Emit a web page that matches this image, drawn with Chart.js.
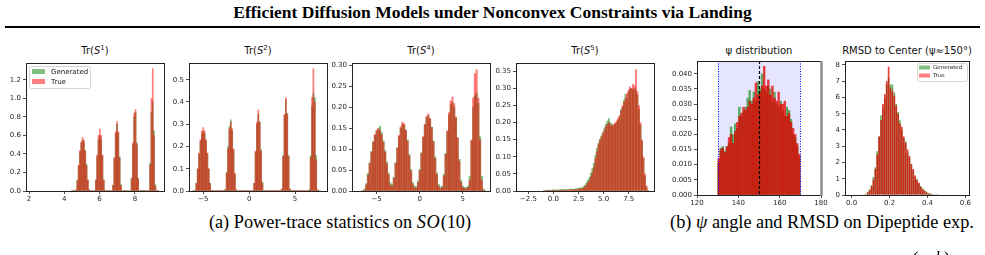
<!DOCTYPE html>
<html>
<head>
<meta charset="utf-8">
<script src="https://cdn.jsdelivr.net/npm/chart.js@4.4.1/dist/chart.umd.min.js"></script>
<style>
  body { margin: 0; width: 985px; height: 255px; overflow: hidden; background: #fff; position: relative; font-family: "DejaVu Sans", sans-serif; }
  canvas { position: absolute; }
  .ptitle { position: absolute; top: 45px; font-size: 10px; line-height: 12px; color: #111; white-space: nowrap; transform: translateX(-50%); }
  .ptitle sup { font-size: 7px; vertical-align: 4px; line-height: 0; }
  .serif { position: absolute; font-family: "Liberation Serif", "Times New Roman", serif; color: #000; white-space: nowrap; }
  #title { top: 2px; left: 0; width: 985px; text-align: center; font-weight: bold; font-size: 17.5px; }
  #rule { position: absolute; left: 5px; width: 975px; top: 26px; height: 2px; background: #000; }
  .cap { top: 212px; font-size: 18.3px; transform: translateX(-50%); }
  .cap .m { letter-spacing: 0.8px; }
</style>
</head>
<body>
<div id="title" class="serif">Efficient Diffusion Models under Nonconvex Constraints via Landing</div>
<div id="rule"></div>

<div class="ptitle" style="left:95px">Tr(<i>S</i><sup>1</sup>)</div>
<div class="ptitle" style="left:258px">Tr(<i>S</i><sup>2</sup>)</div>
<div class="ptitle" style="left:421px">Tr(<i>S</i><sup>4</sup>)</div>
<div class="ptitle" style="left:585px">Tr(<i>S</i><sup>5</sup>)</div>
<div class="ptitle" style="left:759px">ψ distribution</div>
<div class="ptitle" style="left:907px">RMSD to Center (ψ≈150°)</div>

<canvas id="c1"></canvas>
<canvas id="c2"></canvas>
<canvas id="c3"></canvas>
<canvas id="c4"></canvas>
<canvas id="c5"></canvas>
<canvas id="c6"></canvas>

<div class="serif cap" style="left:340px">(a) Power-trace statistics on <i class="m">SO</i>(10)</div>
<div class="serif cap" style="left:822px">(b) <i>ψ</i> angle and RMSD on Dipeptide exp.</div>
<div class="serif" style="left:897px;top:248px;font-size:17px"><i>=</i> (<i>a</i>, <i>b</i>)</div>

<script>
const LABELS = ['Generated', 'True'];

// Tr(S^1): bins of width 0.075 from 4.4
const s1Start = 4.4, s1Width = 0.075;
const s1Gen = [0.003, 0.004, 0.006,
  0.014, 0.12, 0.27, 0.42, 0.52, 0.55, 0.53, 0.44, 0.29, 0.12, 0.015,
  0.005, 0.004, 0.006,
  0.006, 0.12, 0.37, 0.55, 0.6, 0.56, 0.38, 0.12, 0.006,
  0.004, 0.003, 0.002, 0.003, 0.005,
  0.065, 0.35, 0.62, 0.72, 0.63, 0.37, 0.07,
  0.005, 0.002, 0.001, 0.002, 0.003, 0.005,
  0.006, 0.14, 0.5, 0.8, 0.85, 0.52, 0.14, 0.006,
  0.003, 0.001, 0.001, 0.002, 0.003, 0.005,
  0.006, 0.3, 0.85, 0.97, 0.65, 0.07,
  0.003, 0.001];
const s1True = [0.002, 0.003, 0.005,
  0.012, 0.11, 0.28, 0.44, 0.53, 0.58, 0.55, 0.43, 0.27, 0.12, 0.013,
  0.004, 0.003, 0.005,
  0.005, 0.12, 0.39, 0.6, 0.67, 0.6, 0.39, 0.12, 0.005,
  0.003, 0.002, 0.002, 0.003, 0.004,
  0.06, 0.36, 0.64, 0.75, 0.64, 0.36, 0.06,
  0.004, 0.002, 0.001, 0.002, 0.003, 0.004,
  0.005, 0.13, 0.52, 0.84, 0.88, 0.5, 0.13, 0.005,
  0.003, 0.001, 0.001, 0.002, 0.003, 0.004,
  0.005, 0.28, 1.0, 1.32, 0.6, 0.05,
  0.003, 0.001];

// Tr(S^2): bins of width 0.15 from -6.125
const s2Start = -6.125, s2Width = 0.15;
const s2Gen = [0.001,
  0.004, 0.036, 0.1, 0.165, 0.225, 0.255, 0.27, 0.26, 0.228, 0.168, 0.1, 0.035, 0.004,
  0.002, 0.001, 0.001, 0.001, 0.001, 0.001, 0.002, 0.002,
  0.002, 0.007, 0.085, 0.2, 0.29, 0.32, 0.27, 0.185, 0.075, 0.006, 0.002,
  0.002, 0.001, 0.001, 0.001, 0.001, 0.001, 0.001, 0.002, 0.002, 0.002,
  0.002, 0.035, 0.175, 0.3, 0.345, 0.31, 0.185, 0.04, 0.002,
  0.002, 0.001, 0.001, 0.001, 0.001, 0.001, 0.001, 0.001, 0.002, 0.002, 0.002, 0.002,
  0.009, 0.16, 0.34, 0.41, 0.35, 0.16, 0.009,
  0.002, 0.001, 0.001, 0.001, 0.001, 0.001, 0.001, 0.001, 0.001, 0.001, 0.001, 0.002, 0.002, 0.006,
  0.16, 0.38, 0.44, 0.42, 0.16,
  0.006, 0.001, 0.0];
const s2True = [0.001,
  0.003, 0.034, 0.1, 0.171, 0.231, 0.27, 0.285, 0.27, 0.231, 0.171, 0.1, 0.034, 0.003,
  0.001, 0.001, 0.001, 0.001, 0.001, 0.001, 0.001, 0.001,
  0.002, 0.006, 0.08, 0.19, 0.28, 0.31, 0.28, 0.19, 0.08, 0.006, 0.002,
  0.001, 0.001, 0.001, 0.001, 0.001, 0.001, 0.001, 0.001, 0.001, 0.001,
  0.002, 0.035, 0.18, 0.31, 0.365, 0.31, 0.18, 0.035, 0.002,
  0.001, 0.001, 0.001, 0.001, 0.001, 0.001, 0.001, 0.001, 0.001, 0.001, 0.001, 0.001,
  0.008, 0.155, 0.345, 0.42, 0.345, 0.155, 0.008,
  0.001, 0.001, 0.001, 0.001, 0.001, 0.001, 0.001, 0.001, 0.001, 0.001, 0.001, 0.001, 0.001, 0.005,
  0.15, 0.42, 0.55, 0.4, 0.14,
  0.005, 0.001, 0.0];

// Tr(S^4): bins of width 0.2 from -6.7
const s4Start = -6.7, s4Width = 0.2;
const s4Gen = [0.001, 0.005, 0.018, 0.042, 0.068, 0.095, 0.118, 0.133, 0.142, 0.148,
  0.155, 0.14, 0.12, 0.097, 0.07, 0.043, 0.02, 0.016, 0.033, 0.068,
  0.104, 0.13, 0.15, 0.16, 0.158, 0.146, 0.122, 0.088, 0.052, 0.021,
  0.012, 0.011, 0.024, 0.052, 0.092, 0.128, 0.158, 0.176, 0.18, 0.172,
  0.153, 0.12, 0.082, 0.043, 0.016, 0.01, 0.012, 0.04, 0.09, 0.142,
  0.183, 0.207, 0.212, 0.2, 0.175, 0.128, 0.076, 0.026, 0.012, 0.009,
  0.009, 0.012, 0.035, 0.12, 0.2, 0.228, 0.235, 0.21, 0.13, 0.035,
  0.005, 0.001];
const s4True = [0.001, 0.003, 0.015, 0.039, 0.066, 0.093, 0.117, 0.135, 0.146, 0.15,
  0.145, 0.135, 0.117, 0.093, 0.066, 0.039, 0.015, 0.011, 0.03, 0.066,
  0.102, 0.133, 0.154, 0.165, 0.161, 0.145, 0.119, 0.084, 0.048, 0.016,
  0.008, 0.007, 0.02, 0.049, 0.09, 0.13, 0.16, 0.179, 0.185, 0.174,
  0.152, 0.118, 0.078, 0.039, 0.012, 0.006, 0.008, 0.036, 0.088, 0.144,
  0.188, 0.216, 0.225, 0.209, 0.177, 0.127, 0.072, 0.021, 0.008, 0.006,
  0.006, 0.008, 0.026, 0.122, 0.223, 0.281, 0.29, 0.223, 0.122, 0.026,
  0.003, 0.001];

// Tr(S^5): bins of width 0.15 from -1.0
const s5Start = -1.0, s5Width = 0.15;
const s5Gen = [0.002, 0.002, 0.003, 0.003, 0.002, 0.003, 0.004, 0.003, 0.004, 0.003,
  0.004, 0.005, 0.004, 0.004, 0.005, 0.004, 0.005, 0.005, 0.006, 0.005,
  0.006, 0.007, 0.007, 0.009, 0.01, 0.009, 0.013, 0.017, 0.024, 0.032,
  0.04, 0.052, 0.066, 0.082, 0.105, 0.125, 0.14, 0.152, 0.162, 0.172,
  0.185, 0.195, 0.205, 0.212, 0.2, 0.196, 0.19, 0.195, 0.2, 0.208,
  0.218, 0.238, 0.245, 0.265, 0.283, 0.27, 0.29, 0.298, 0.3, 0.295,
  0.3, 0.295, 0.28, 0.24, 0.195, 0.145, 0.095, 0.045, 0.012, 0.002];
const s5True = [0.001, 0.001, 0.001, 0.002, 0.001, 0.002, 0.002, 0.001, 0.002, 0.002,
  0.002, 0.003, 0.002, 0.003, 0.003, 0.002, 0.003, 0.003, 0.004, 0.003,
  0.004, 0.005, 0.004, 0.006, 0.007, 0.006, 0.009, 0.012, 0.018, 0.025,
  0.03, 0.042, 0.055, 0.07, 0.095, 0.115, 0.135, 0.148, 0.158, 0.168,
  0.178, 0.188, 0.196, 0.2, 0.193, 0.19, 0.195, 0.198, 0.205, 0.212,
  0.22, 0.235, 0.25, 0.26, 0.272, 0.285, 0.295, 0.305, 0.3, 0.312,
  0.308, 0.355, 0.29, 0.25, 0.2, 0.15, 0.1, 0.05, 0.015, 0.002];

// psi distribution: bins of width 1 from 130 (degrees)
const psiStart = 130, psiWidth = 1;
const psiGen = [0.0105, 0.0155, 0.016, 0.0145, 0.016, 0.017, 0.0225, 0.02, 0.0235, 0.022,
  0.029, 0.026, 0.0275, 0.029, 0.032, 0.0345, 0.031, 0.034, 0.031, 0.0375,
  0.035, 0.04, 0.035, 0.034, 0.036, 0.035, 0.031, 0.034, 0.03, 0.029,
  0.031, 0.028, 0.026, 0.029, 0.028, 0.025, 0.02, 0.019, 0.016, 0.0125];
const psiTrue = [0.012, 0.015, 0.0155, 0.014, 0.016, 0.019, 0.02, 0.017, 0.021, 0.024,
  0.026, 0.027, 0.029, 0.028, 0.029, 0.031, 0.03, 0.032, 0.037, 0.033,
  0.034, 0.036, 0.0425, 0.036, 0.038, 0.033, 0.036, 0.032, 0.031, 0.034,
  0.03, 0.03, 0.031, 0.026, 0.027, 0.024, 0.022, 0.02, 0.017, 0.0135];
const psiBand = [130, 170];
const psiCenter = 150;

// RMSD to center: bins of width 0.01 from 0.06
const rmsdStart = 0.06, rmsdWidth = 0.01;
const rmsdGen = [0.02, 0.07, 0.2, 0.35, 0.6, 1.1, 1.7, 2.7, 3.6, 4.9,
  5.4, 6.0, 6.8, 7.2, 6.8, 6.8, 6.3, 5.6, 5.1, 4.6,
  4.0, 3.5, 3.3, 2.6, 2.3, 1.9, 1.5, 1.1, 1.0, 0.7,
  0.55, 0.4, 0.3, 0.2, 0.12, 0.09, 0.06, 0.04, 0.05, 0.02, 0.0];
const rmsdTrue = [0.0, 0.05, 0.15, 0.3, 0.55, 0.95, 1.6, 2.5, 3.6, 4.6,
  5.6, 6.2, 7.0, 7.9, 6.6, 6.4, 6.1, 5.5, 5.0, 4.4,
  4.2, 3.6, 3.2, 2.8, 2.4, 1.9, 1.6, 1.2, 0.9, 0.75,
  0.5, 0.35, 0.25, 0.15, 0.1, 0.07, 0.04, 0.03, 0.01, 0.0, 0.0];

// tick values
const s1XTicks = [2, 4, 6, 8], s1YTicks = [0, 0.2, 0.4, 0.6, 0.8, 1.0, 1.2];
const s2XTicks = [-5, 0, 5], s2YTicks = [0, 0.1, 0.2, 0.3, 0.4, 0.5];
const s4XTicks = [-5, 0, 5], s4YTicks = [0, 0.05, 0.1, 0.15, 0.2, 0.25, 0.3];
const s5XTicks = [-2.5, 0, 2.5, 5, 7.5], s5YTicks = [0, 0.05, 0.1, 0.15, 0.2, 0.25, 0.3, 0.35];
const psiXTicks = [120, 140, 160, 180], psiYTicks = [0, 0.005, 0.01, 0.015, 0.02, 0.025, 0.03, 0.035, 0.04];
const rmsdXTicks = [0, 0.2, 0.4, 0.6], rmsdYTicks = [0, 1, 2, 3, 4, 5, 6, 7, 8];

const LIGHT = ['rgba(0,128,0,0.5)', 'rgba(255,0,0,0.5)'];
const DARK = ['rgba(0,128,0,0.6)', 'rgba(230,0,0,0.75)'];

const fmt = d => v => {
  const s = Math.abs(v).toFixed(d);
  return (v < 0 ? '\u2212' : '') + s;
};

// box around the plot + psi decorations
Chart.register({
  id: 'frame',
  beforeDatasetsDraw(chart, args, o) {
    if (!o.band) return;
    const { ctx, chartArea: a, scales: { x } } = chart;
    ctx.save();
    ctx.fillStyle = 'rgba(0,0,255,0.1)';
    const x0 = x.getPixelForValue(o.band[0]), x1 = x.getPixelForValue(o.band[1]);
    ctx.fillRect(x0, a.top, x1 - x0, a.bottom - a.top);
    ctx.restore();
  },
  afterDatasetsDraw(chart, args, o) {
    const { ctx, chartArea: a, scales: { x } } = chart;
    ctx.save();
    if (o.band) {
      ctx.lineWidth = 1;
      ctx.strokeStyle = '#0000ff';
      ctx.setLineDash([1, 1.5]);
      o.band.forEach(v => {
        const px = Math.round(x.getPixelForValue(v)) + 0.5;
        ctx.beginPath(); ctx.moveTo(px, a.top); ctx.lineTo(px, a.bottom); ctx.stroke();
      });
      ctx.strokeStyle = '#000';
      ctx.lineWidth = 1.2;
      ctx.setLineDash([3, 2]);
      const pc = Math.round(x.getPixelForValue(o.center)) + 0.5;
      ctx.beginPath(); ctx.moveTo(pc, a.top); ctx.lineTo(pc, a.bottom); ctx.stroke();
      ctx.setLineDash([]);
    }
    ctx.strokeStyle = '#222';
    ctx.lineWidth = 1;
    ctx.strokeRect(Math.round(a.left) + 0.5, Math.round(a.top) + 0.5,
      Math.round(a.right - a.left), Math.round(a.bottom - a.top));
    if (o.greyRight) {
      ctx.strokeStyle = '#888';
      ctx.lineWidth = 2.4;
      ctx.beginPath(); ctx.moveTo(a.right + 0.5, a.top); ctx.lineTo(a.right + 0.5, a.bottom + 1); ctx.stroke();
    }
    ctx.restore();
  }
});

// legend drawn inside the plot
Chart.register({
  id: 'inLegend',
  afterDraw(chart, args, o) {
    if (!o.show) return;
    const { ctx, chartArea: a } = chart;
    const bx = o.corner === 'tr' ? a.right - o.x - o.w : a.left + o.x;
    const by = a.top + o.y;
    ctx.save();
    ctx.fillStyle = 'rgba(255,255,255,0.8)';
    ctx.strokeStyle = '#d5d5d5';
    ctx.lineWidth = 1;
    ctx.beginPath();
    ctx.roundRect(Math.round(bx) + 0.5, Math.round(by) + 0.5, o.w, o.h, 2);
    ctx.fill(); ctx.stroke();
    ctx.font = o.font + 'px "DejaVu Sans"';
    ctx.textBaseline = 'middle';
    chart.data.datasets.forEach((ds, i) => {
      const cy = by + o.row0 + i * o.rowGap;
      ctx.fillStyle = o.colors[i];
      ctx.fillRect(bx + o.px, cy - o.ph / 2, o.pw, o.ph);
      ctx.fillStyle = '#222';
      ctx.fillText(ds.label, bx + o.tx, cy + 0.5);
    });
    ctx.restore();
  }
});

function histChart(id, box, c) {
  const padT = 8, padR = 12, yW = 34, xH = 16;
  const canvas = document.getElementById(id);
  canvas.width = box[2] - box[0] + yW + padR;
  canvas.height = box[3] - box[1] + padT + xH;
  canvas.style.left = (box[0] - yW) + 'px';
  canvas.style.top = (box[1] - padT) + 'px';

  const tickFont = { family: '"DejaVu Sans"', size: 7 };
  const axisCommon = {
    type: 'linear',
    offset: false,
    border: { display: false },
    grid: { drawOnChartArea: false, drawTicks: true, tickLength: 3, color: '#222', lineWidth: 0.8, offset: false },
  };

  return new Chart(canvas, {
    type: 'bar',
    data: {
      // "True" gets the lower order so it is painted over "Generated"
      datasets: LABELS.map((label, k) => ({
        label,
        order: LABELS.length - k,
        data: c.series[k].map((v, i) => ({ x: c.start + c.width * (i + 0.5), y: v })),
        backgroundColor: c.colors[k],
        borderWidth: 0,
        grouped: false,
        barPercentage: c.barPct || 1,
        categoryPercentage: 1,
        inflateAmount: c.barPct ? 0 : 0.2
      }))
    },
    options: {
      responsive: false,
      animation: false,
      events: [],
      layout: { padding: { top: padT, right: padR, left: 0, bottom: 0 } },
      plugins: {
        legend: { display: false },
        tooltip: { enabled: false },
        frame: c.frame || {},
        inLegend: c.legend || { show: false }
      },
      scales: {
        x: {
          ...axisCommon,
          min: c.xRange[0], max: c.xRange[1],
          afterBuildTicks: s => { s.ticks = c.xTicks.map(value => ({ value })); },
          afterFit: s => { s.height = xH; },
          ticks: { font: tickFont, color: '#262626', padding: 1, maxRotation: 0, autoSkip: false, callback: c.xFmt }
        },
        y: {
          ...axisCommon,
          min: 0, max: c.yMax,
          afterBuildTicks: s => { s.ticks = c.yTicks.map(value => ({ value })); },
          afterFit: s => { s.width = yW; },
          ticks: { font: tickFont, color: '#262626', padding: 2, autoSkip: false, callback: c.yFmt }
        }
      }
    }
  });
}

const legendBig = { show: true, corner: 'tl', x: 3, y: 3, w: 61, h: 22, font: 7, row0: 5.5, rowGap: 10, px: 3, pw: 13, ph: 5, tx: 22, colors: LIGHT };
const legendSmall = { show: true, corner: 'tr', x: 2, y: 2, w: 50, h: 18, font: 5.5, row0: 4.5, rowGap: 8, px: 2, pw: 11, ph: 4, tx: 16, colors: LIGHT };

histChart('c1', [26, 63, 164, 191], {
  series: [s1Gen, s1True], start: s1Start, width: s1Width, colors: LIGHT,
  xRange: [1.83, 9.65], yMax: 1.38, xTicks: s1XTicks, yTicks: s1YTicks,
  xFmt: fmt(0), yFmt: fmt(1), legend: legendBig
});
histChart('c2', [189, 63, 327, 191], {
  series: [s2Gen, s2True], start: s2Start, width: s2Width, colors: LIGHT,
  xRange: [-6.55, 8.48], yMax: 0.575, xTicks: s2XTicks, yTicks: s2YTicks,
  xFmt: fmt(0), yFmt: fmt(1)
});
histChart('c3', [352, 63, 490, 191], {
  series: [s4Gen, s4True], start: s4Start, width: s4Width, colors: LIGHT,
  xRange: [-7.85, 8.15], yMax: 0.306, xTicks: s4XTicks, yTicks: s4YTicks,
  xFmt: fmt(0), yFmt: fmt(2)
});
histChart('c4', [516, 63, 654, 191], {
  series: [s5Gen, s5True], start: s5Start, width: s5Width, colors: LIGHT,
  xRange: [-3.73, 10.02], yMax: 0.374, xTicks: s5XTicks, yTicks: s5YTicks,
  xFmt: fmt(1), yFmt: fmt(2)
});
histChart('c5', [697, 61, 821, 195], {
  series: [psiGen, psiTrue], start: psiStart, width: psiWidth, colors: DARK,
  xRange: [120, 180], yMax: 0.0442, xTicks: psiXTicks, yTicks: psiYTicks,
  xFmt: fmt(0), yFmt: fmt(3),
  frame: { band: psiBand, center: psiCenter, greyRight: true }
});
histChart('c6', [845, 61, 969, 195], {
  series: [rmsdGen, rmsdTrue], start: rmsdStart, width: rmsdWidth, colors: DARK,
  xRange: [-0.035, 0.619], yMax: 8.24, xTicks: rmsdXTicks, yTicks: rmsdYTicks,
  xFmt: fmt(1), yFmt: fmt(0), legend: legendSmall, barPct: 0.9
});
</script>
</body>
</html>
